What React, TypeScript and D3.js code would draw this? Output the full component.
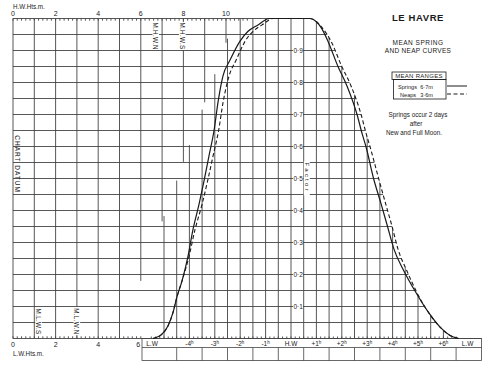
import React from 'react';
import * as d3 from 'd3';

// ---------- data ----------
const hwHeightTicks = [0, 2, 4, 6, 8, 10];
const lwHeightTicks = [0, 2, 4, 6];
const factorTicks = [0.1, 0.2, 0.3, 0.4, 0.5, 0.6, 0.7, 0.8, 0.9];
const factorLabels = ['0·1', '0·2', '0·3', '0·4', '0·5', '0·6', '0·7', '0·8', '0·9'];
const timeTicks = [-4, -3, -2, -1, 0, 1, 2, 3, 4, 5, 6];
const timeLabels = ['-4', '-3', '-2', '-1', 'H.W', '+1', '+2', '+3', '+4', '+5', '+6'];
const lwTimes = [-5.43, 6.6];

const hwMarkNames = ['M.H.W.N', 'M.H.W.S'];
const hwMarkHeights = [6.7, 7.95];
const lwMarkNames = ['M.L.W.S', 'M.L.W.N'];
const lwMarkHeights = [1.2, 3.0];

const rangeNames = ['Springs', 'Neaps'];
const rangeValues = ['6·7m', '3·6m'];

const springHours = [-5.43, -5.1, -4.84, -4.65, -4.49, -4.29, -4.06, -3.86, -3.62, -3.43, -3.23, -3.03, -2.87, -2.68, -2.4, -2.0, -1.69, -1.3, -0.85,
  0, 0.75,
  1.0, 1.2, 1.45, 1.85, 2.2, 2.6, 2.8, 2.95, 3.25, 3.55, 3.8, 4.05, 4.45, 4.9, 5.4, 5.9, 6.25, 6.6];
const springFactors = [0, 0.012, 0.04, 0.08, 0.13, 0.18, 0.255, 0.34, 0.42, 0.49, 0.57, 0.65, 0.74, 0.82, 0.87, 0.93, 0.96, 0.98, 1.0,
  1.0, 1.0,
  0.99, 0.97, 0.93, 0.85, 0.79, 0.7, 0.64, 0.6, 0.5, 0.42, 0.35, 0.28, 0.21, 0.146, 0.083, 0.033, 0.01, 0];

const neapHours = [-5.43, -5.1, -4.84, -4.65, -4.49, -4.29, -4.02, -3.78, -3.5, -3.29, -3.07, -2.85, -2.67, -2.44, -2.16, -1.8, -1.49, -1.14, -0.7,
  0, 0.75,
  1.0, 1.24, 1.57, 2.0, 2.36, 2.76, 2.96, 3.11, 3.45, 3.73, 3.98, 4.21, 4.57, 4.94, 5.4, 5.9, 6.25, 6.6];
const neapFactors = [0, 0.012, 0.04, 0.08, 0.13, 0.18, 0.255, 0.34, 0.42, 0.49, 0.57, 0.65, 0.74, 0.82, 0.87, 0.93, 0.96, 0.98, 1.0,
  1.0, 1.0,
  0.99, 0.97, 0.93, 0.85, 0.79, 0.7, 0.64, 0.6, 0.5, 0.42, 0.35, 0.28, 0.21, 0.146, 0.083, 0.033, 0.01, 0];

// ---------- scales ----------
const hScale = d3.scaleLinear().domain([0, 10]).range([13, 226]);
const tScale = d3.scaleLinear().domain([0, 6]).range([291, 443.4]);
const fScale = d3.scaleLinear().domain([0, 1]).range([338.5, 18.5]);

// dividing diagonal between height panel and time panel (in height / factor units)
const diagF = (m: number) => 0.18 + (m - 6) * 0.186;

const FONT = '"Liberation Sans", Arial, sans-serif';
const GRID = '#444';
const INK = '#1a1a1a';

export default function App() {
  const line = d3.line<[number, number]>()
    .x(d => tScale(d[0]))
    .y(d => fScale(d[1]))
    .curve(d3.curveMonotoneX);

  const springPts: [number, number][] = springHours.map((h, i) => [h, springFactors[i]]);
  const neapPts: [number, number][] = neapHours.map((h, i) => [h, neapFactors[i]]);

  const fallPts = neapPts.filter(p => p[0] >= 0.75);
  const fallPath = (line(fallPts) || '').replace(/^M/, 'L');
  const xEnd = tScale(lwTimes[1]);
  const clipD = `M-5,-5 L${tScale(0.75)},-5 L${tScale(0.75)},${fScale(1)} ${fallPath} L${xEnd + 0.5},${fScale(0) + 1} L${xEnd + 0.5},400 L-5,400 Z`;

  const x0 = hScale(0);
  const yTop = fScale(1);
  const yBot = fScale(0);

  const hLines = d3.range(1, 21).map(k => k * 0.05);
  const heightLines = d3.range(0, 12).map(m => {
    const fd = diagF(m);
    return { m, fd: Math.max(0, fd) };
  }).filter(d => d.fd < 1);
  const timeLines = d3.range(-5, 7, 0.5).map(h => {
    const x = tScale(h);
    const fd = diagF(hScale.invert(x));
    return { h, x, fd: Math.min(1, fd) };
  });

  const topTicks = d3.range(0, 11.01, 0.2);
  const botTicks = d3.range(0, 6.01, 0.2);
  const tTicks = d3.range(-5.5, 6.61, 1 / 6);

  const boxL = 142;
  const boxR = tScale(7.5);
  const boxDividers = d3.range(-4.5, 7, 1);

  const numStyle = { fontFamily: FONT, fontSize: 7, fill: INK } as const;
  const markStyle = { fontFamily: FONT, fontSize: 6.3, fill: INK, letterSpacing: 0.3 } as const;

  return (
    <svg width={500} height={383} style={{ position: 'absolute', left: 0, top: 0, background: '#fff' }}>
      <defs>
        <clipPath id="gridClip">
          <path d={clipD} />
        </clipPath>
      </defs>
      <rect x={0} y={0} width={500} height={383} fill="#fff" />

      <g clipPath="url(#gridClip)" stroke={GRID} strokeWidth={0.9} fill="none">
        {hLines.map(f => (
          <line key={'h' + f} x1={x0} x2={490} y1={fScale(f)} y2={fScale(f)} />
        ))}
        {heightLines.map(d => (
          <line key={'m' + d.m} x1={hScale(d.m)} x2={hScale(d.m)} y1={yTop} y2={fScale(d.fd)} />
        ))}
        {timeLines.map(d => (
          <line key={'t' + d.h} x1={d.x} x2={d.x} y1={yBot} y2={fScale(d.fd)} />
        ))}
        {topTicks.map(v => (
          <line key={'tt' + v} x1={hScale(v)} x2={hScale(v)} y1={yTop} y2={yTop + 2.2} />
        ))}
      </g>

      <g stroke={GRID} strokeWidth={0.9}>
        <line x1={x0} x2={boxR} y1={yBot} y2={yBot} />
        {botTicks.map(v => (
          <line key={'bt' + v} x1={hScale(v)} x2={hScale(v)} y1={yBot} y2={yBot - 2.2} />
        ))}
        {tTicks.map(v => (
          <line key={'tk' + v} x1={tScale(v)} x2={tScale(v)} y1={yBot} y2={yBot - 2} />
        ))}
      </g>

      <g stroke={GRID} strokeWidth={0.8} fill="none">
        <rect x={boxL} y={yBot} width={boxR - boxL} height={22} />
        <line x1={boxL} x2={boxR} y1={yBot + 9} y2={yBot + 9} />
        {boxDividers.map(h => (
          <line key={'bd' + h} x1={tScale(h)} x2={tScale(h)} y1={yBot + 9} y2={yBot + 22} />
        ))}
      </g>
      <g style={{ fontFamily: FONT, fontSize: 6.5, fill: INK }} textAnchor="middle">
        <text x={152} y={yBot + 7}>L.W</text>
        <text x={tScale(lwTimes[1]) + 9} y={yBot + 7}>L.W</text>
        {timeTicks.map((h, i) => (
          <text key={'tl' + h} x={tScale(h)} y={yBot + 7}>
            {timeLabels[i]}
            {h !== 0 ? <tspan fontSize={4.5} dy={-1.5}>h</tspan> : null}
          </text>
        ))}
      </g>

      <path d={line(springPts) || ''} fill="none" stroke={INK} strokeWidth={1.2} />
      <path d={line(neapPts) || ''} fill="none" stroke={INK} strokeWidth={1.1} strokeDasharray="4,2.5" />

      {factorTicks.map((f, i) => (
        <g key={'fl' + f}>
          <rect x={tScale(0) + 2} y={fScale(f) - 3.5} width={10} height={7} fill="#fff" />
          <text x={tScale(0) + 2.5} y={fScale(f) + 2.4} style={{ fontFamily: FONT, fontSize: 6.5, fill: INK }}>{factorLabels[i]}</text>
        </g>
      ))}
      <g transform={`translate(${tScale(0.62)},${fScale(0.55)}) rotate(90)`}>
        <rect x={-1} y={-3} width={34} height={6} fill="#fff" />
        <text style={{ fontFamily: FONT, fontSize: 6, fill: INK, letterSpacing: 2.2 }} dominantBaseline="central">Factor</text>
      </g>

      <text x={x0} y={9} style={{ fontFamily: FONT, fontSize: 6.3, fill: INK }}>H.W.Hts.m.</text>
      {hwHeightTicks.map(v => (
        <text key={'hw' + v} x={hScale(v)} y={16} textAnchor="middle" style={numStyle}>{v}</text>
      ))}
      {lwHeightTicks.map(v => (
        <text key={'lw' + v} x={hScale(v) - (v === 6 ? 2.5 : 0)} y={yBot + 8.5} textAnchor="middle" style={numStyle}>{v}</text>
      ))}
      <text x={x0} y={yBot + 17} style={{ fontFamily: FONT, fontSize: 6.3, fill: INK }}>L.W.Hts.m.</text>

      {hwMarkNames.map((n, i) => (
        <g key={n} transform={`translate(${hScale(hwMarkHeights[i])},${yTop + 4}) rotate(90)`}>
          <rect x={-0.5} y={-3.3} width={28} height={6.6} fill="#fff" />
          <text dominantBaseline="central" style={markStyle}>{n}</text>
        </g>
      ))}
      {lwMarkNames.map((n, i) => (
        <g key={n} transform={`translate(${hScale(lwMarkHeights[i])},${yBot - 4}) rotate(90)`}>
          <rect x={-27.5} y={-3.3} width={28} height={6.6} fill="#fff" />
          <text textAnchor="end" dominantBaseline="central" style={markStyle}>{n}</text>
        </g>
      ))}
      <text transform={`translate(17,${fScale(0.635)}) rotate(90)`} dominantBaseline="central"
        style={{ fontFamily: FONT, fontSize: 6.5, fill: INK, letterSpacing: 1 }}>CHART DATUM</text>

      <g style={{ fontFamily: FONT, fill: INK }} textAnchor="middle">
        <text x={418} y={21} style={{ fontSize: 9.5, fontWeight: 'bold', letterSpacing: 0.6 }}>LE HAVRE</text>
        <text x={418} y={44.5} style={{ fontSize: 6.5, letterSpacing: 0.5 }}>MEAN SPRING</text>
        <text x={418} y={53} style={{ fontSize: 6.5, letterSpacing: 0.3 }}>AND NEAP CURVES</text>
      </g>
      <g stroke={INK} strokeWidth={0.8} fill="none">
        <rect x={392} y={72} width={54} height={7.5} />
        <rect x={393.5} y={79.5} width={52.5} height={19.5} />
        <line x1={447} x2={467} y1={86} y2={86} strokeWidth={1} />
        <line x1={447} x2={467} y1={94} y2={94} strokeWidth={1} strokeDasharray="4,2.5" />
      </g>
      <g style={{ fontFamily: FONT, fontSize: 5.6, fill: INK }}>
        <text x={419} y={78} textAnchor="middle" style={{ fontSize: 6, letterSpacing: 0.3 }}>MEAN RANGES</text>
        {rangeNames.map((n, i) => (
          <g key={n}>
            <text x={398 + i * 2} y={88.5 + i * 8}>{n}</text>
            <text x={433} y={88.5 + i * 8} textAnchor="end">{rangeValues[i]}</text>
          </g>
        ))}
      </g>
      <g style={{ fontFamily: FONT, fontSize: 6.3, fill: INK }} textAnchor="middle">
        <text x={418} y={117}>Springs occur 2 days</text>
        <text x={416} y={126}>after</text>
        <text x={414} y={135}>New and Full Moon.</text>
      </g>
    </svg>
  );
}
